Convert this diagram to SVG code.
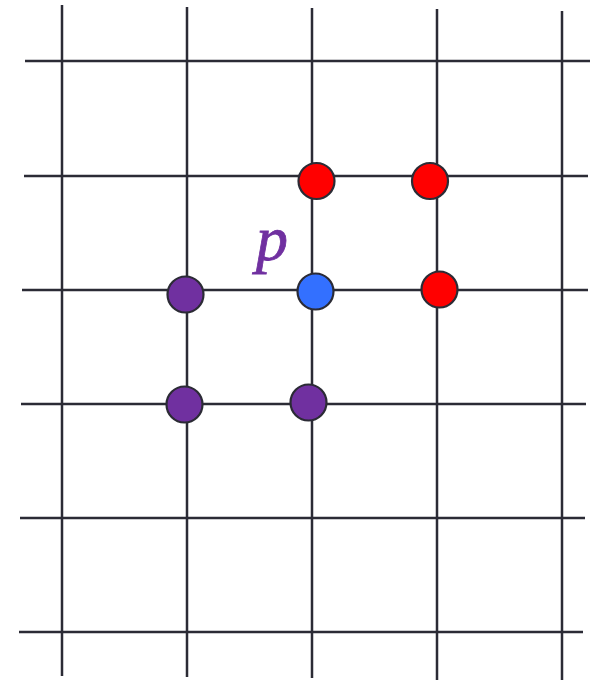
<svg xmlns="http://www.w3.org/2000/svg" width="596" height="680" viewBox="0 0 596 680">
<style>
.g{stroke:#2b2b35;stroke-width:2.5;fill:none}
.n{stroke:#2b2b35;stroke-width:2.2}
.red{fill:#ff0000}
.blue{fill:#3370ff}
.pur{fill:#7030a0}
</style>
<rect width="596" height="680" fill="#ffffff"/>
<g id="grid" class="g">
<line x1="25" y1="61" x2="590" y2="61"/>
<line x1="24" y1="176" x2="588" y2="176"/>
<line x1="22" y1="290" x2="588" y2="290"/>
<line x1="21" y1="404" x2="586" y2="404"/>
<line x1="20" y1="518" x2="585" y2="518"/>
<line x1="19" y1="632" x2="583" y2="632"/>
<line x1="62" y1="5" x2="62" y2="676"/>
<line x1="187" y1="7" x2="187" y2="677"/>
<line x1="312" y1="8" x2="312" y2="678"/>
<line x1="437" y1="9" x2="437" y2="680"/>
<line x1="562" y1="11" x2="562" y2="680"/>
</g>
<g id="r1"><circle class="n red" cx="316.5" cy="181" r="18"/></g>
<g id="r2"><circle class="n red" cx="430" cy="181" r="18"/></g>
<g id="r3"><circle class="n red" cx="439.5" cy="289.5" r="18"/></g>
<g id="p"><circle class="n blue" cx="315.5" cy="291.5" r="18"/></g>
<g id="u1"><circle class="n pur" cx="185.5" cy="294.5" r="18"/></g>
<g id="u2"><circle class="n pur" cx="184.5" cy="404.5" r="18"/></g>
<g id="u3"><circle class="n pur" cx="308.5" cy="402.5" r="18"/></g>
<g id="label"><text x="256" y="260" font-family="Liberation Serif, serif" font-style="italic" font-size="64" fill="#7030a0" stroke="#7030a0" stroke-width="0.8">p</text></g>
</svg>
